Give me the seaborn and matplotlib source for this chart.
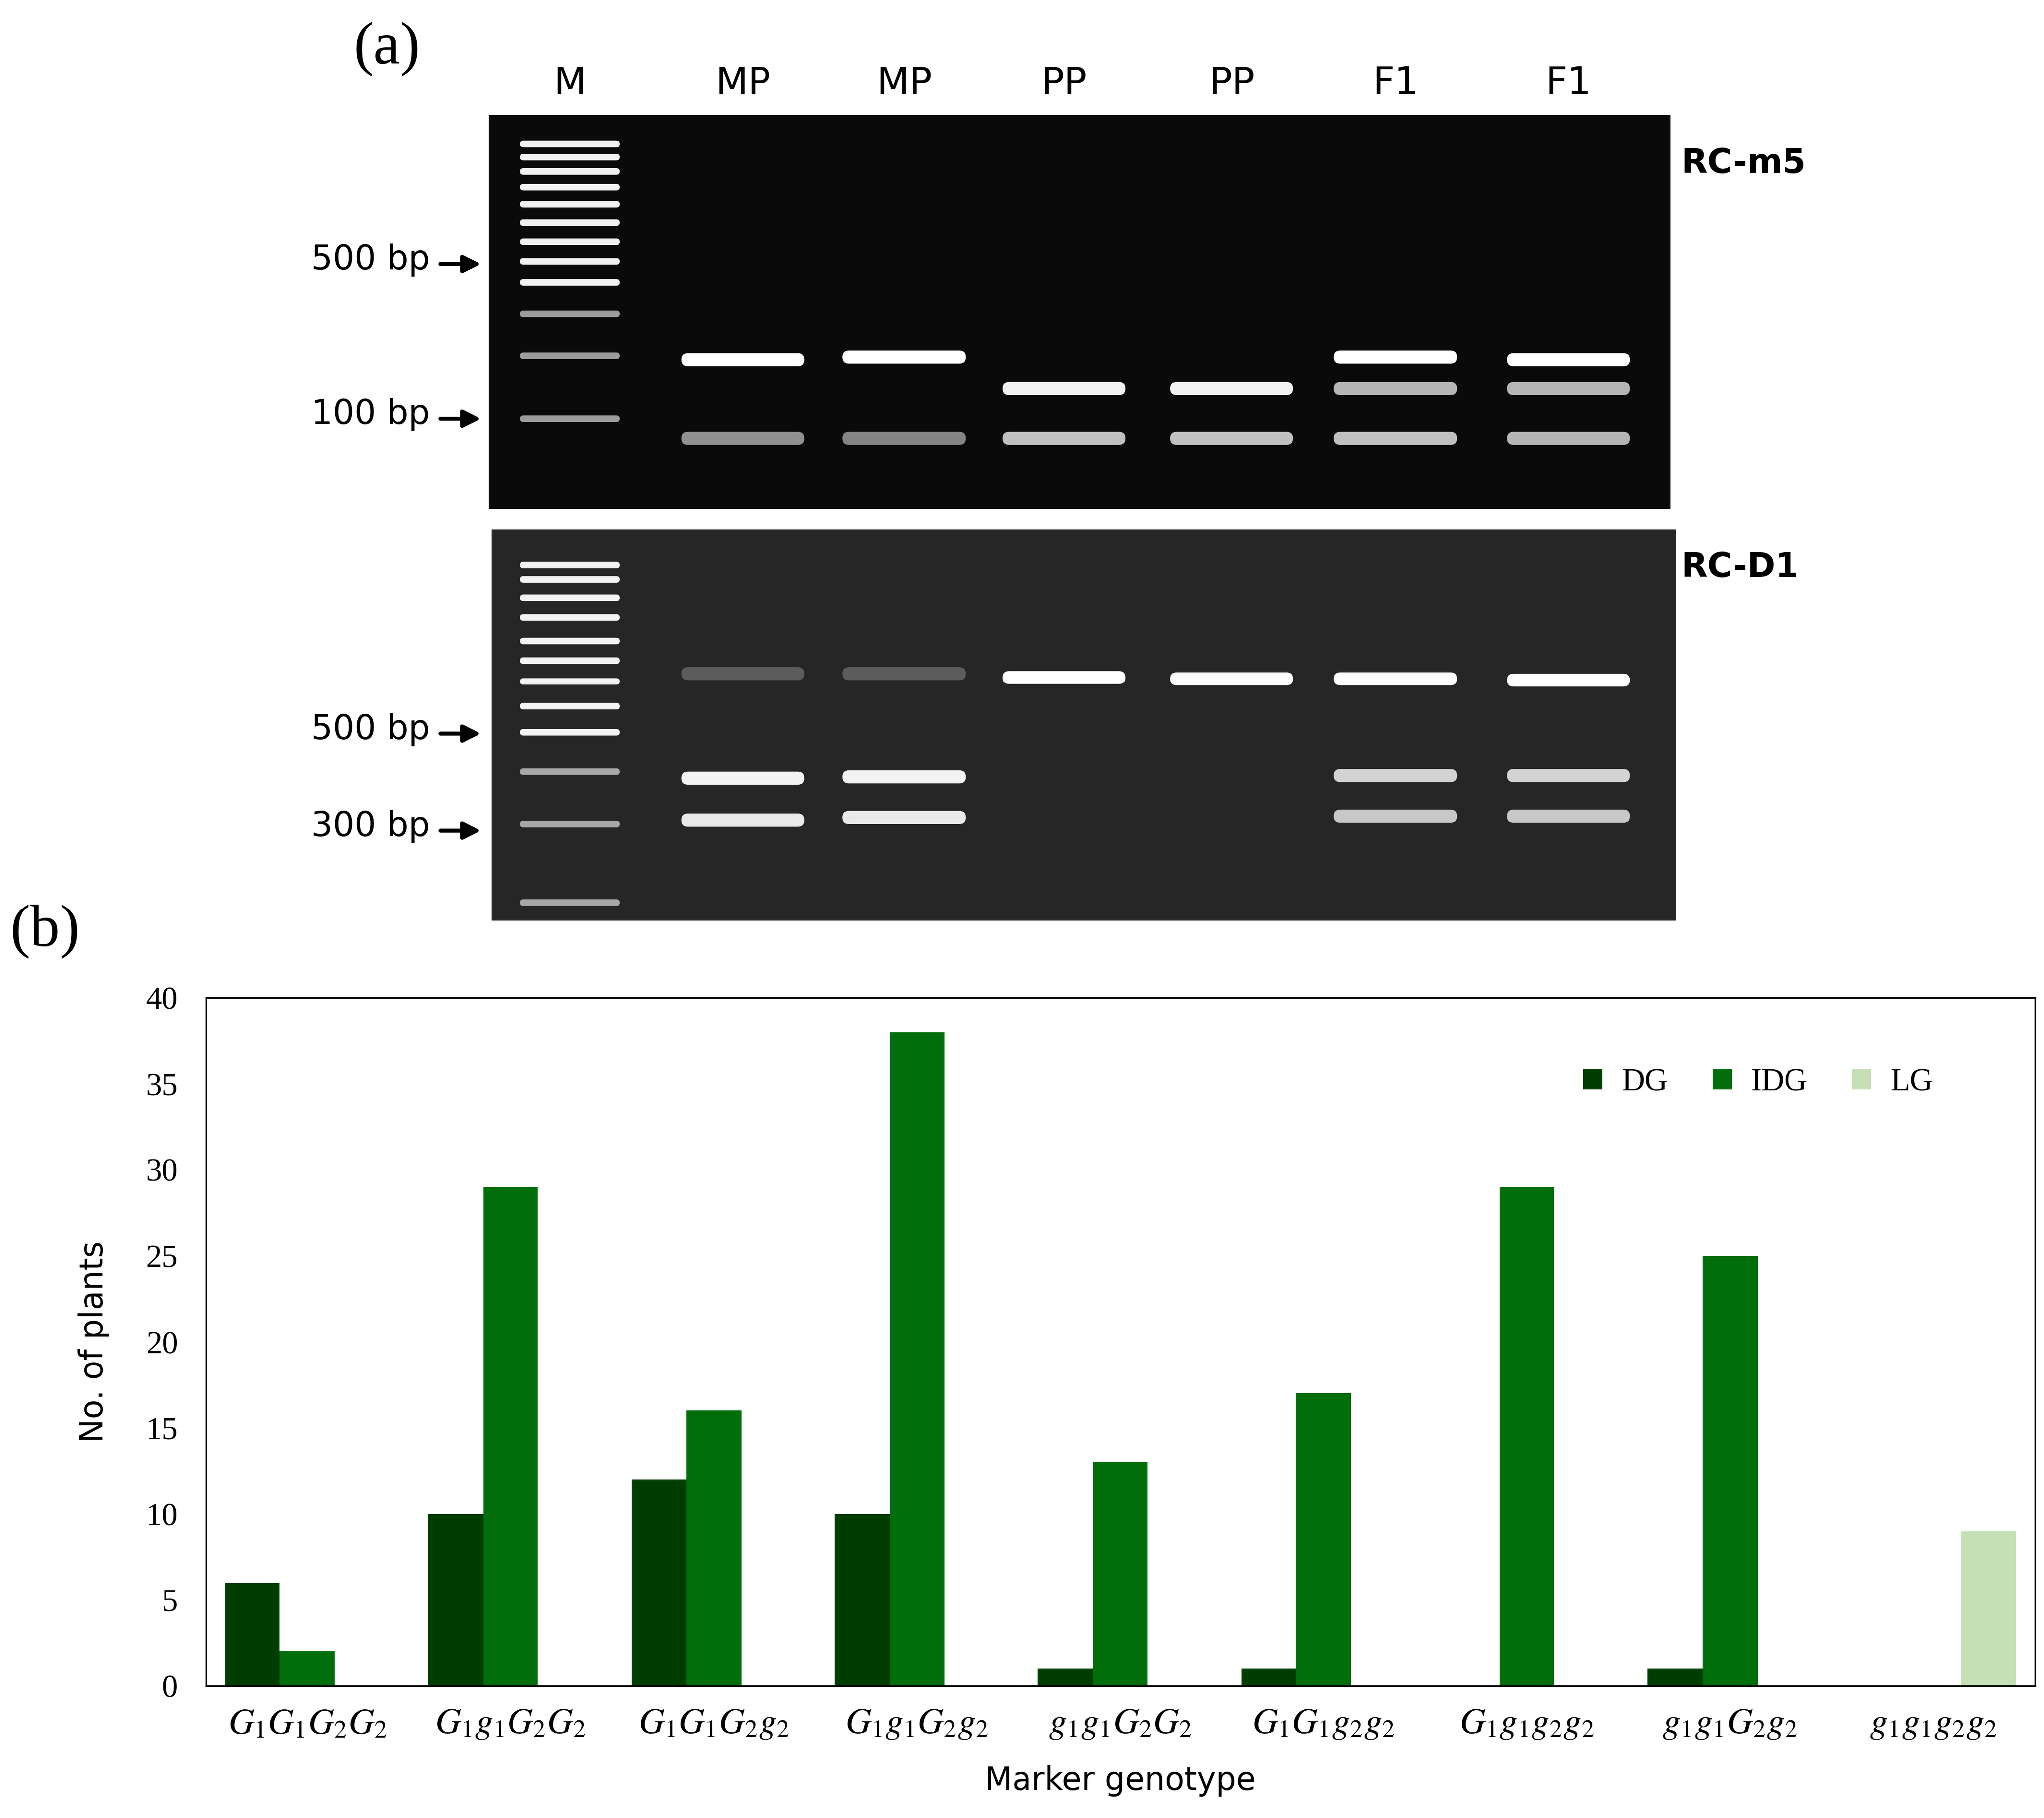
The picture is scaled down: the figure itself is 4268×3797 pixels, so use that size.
import numpy as np
import pandas as pd
import seaborn as sns
import matplotlib.pyplot as plt
from matplotlib.patches import FancyBboxPatch

# bar chart data (panel b)
genotypes = ['$G_1G_1G_2G_2$', '$G_1g_1G_2G_2$', '$G_1G_1G_2g_2$', '$G_1g_1G_2g_2$',
             '$g_1g_1G_2G_2$', '$G_1G_1g_2g_2$', '$G_1g_1g_2g_2$', '$g_1g_1G_2g_2$',
             '$g_1g_1g_2g_2$']
dg = [6, 10, 12, 10, 1, 1, 0, 1, 0]
idg = [2, 29, 16, 38, 13, 17, 29, 25, 0]
lg = [0, 0, 0, 0, 0, 0, 0, 0, 9]

# gel data (panel a), band rows in image pixels
lanes = ['M', 'MP', 'MP', 'PP', 'PP', 'F1', 'F1']
lane_x = [435, 567, 690, 812, 940, 1065, 1197]
ladder1 = [110, 120, 131, 143, 156, 170, 185, 200, 216, 240, 272, 320]
ladder2 = [432, 443, 457, 472, 490, 505, 521, 540, 560, 590, 630, 690]
gel1_bands = {1: [(275, 1.0), (335, 0.55)], 2: [(273, 1.0), (335, 0.5)],
              3: [(297, 0.95), (335, 0.75)], 4: [(297, 0.95), (335, 0.75)],
              5: [(273, 1.0), (297, 0.7), (335, 0.75)],
              6: [(275, 1.0), (297, 0.7), (335, 0.7)]}
gel2_bands = {1: [(515, 0.25), (595, 0.95), (627, 0.9)],
              2: [(515, 0.25), (594, 0.95), (625, 0.9)],
              3: [(518, 1.0)], 4: [(519, 1.0)],
              5: [(519, 1.0), (593, 0.8), (624, 0.75)],
              6: [(520, 1.0), (593, 0.8), (624, 0.75)]}

W, H = 1560, 1390
fig = plt.figure(figsize=(4268 / 300, 3797 / 300), dpi=300)
fig.patch.set_facecolor('white')


def box(x0, x1, y0, y1):
    return [x0 / W, 1 - y1 / H, (x1 - x0) / W, (y1 - y0) / H]


def draw_gel(rect, ylo, yhi, ladder, bands, bg):
    ax = fig.add_axes(box(rect[0], rect[1], ylo, yhi))
    ax.set_facecolor(bg)
    ax.set_xlim(rect[0], rect[1])
    ax.set_ylim(yhi, ylo)
    ax.set_xticks([])
    ax.set_yticks([])
    for s in ax.spines.values():
        s.set_visible(False)
    for i, y in enumerate(ladder):
        a = 0.95 if i < 9 else 0.6
        ax.add_patch(FancyBboxPatch((lane_x[0] - 38, y - 2.5), 76, 5,
                                    boxstyle='round,pad=0,rounding_size=2.5',
                                    fc='white', ec='none', alpha=a))
    for lane, bl in bands.items():
        for y, a in bl:
            ax.add_patch(FancyBboxPatch((lane_x[lane] - 47, y - 5), 94, 10,
                                        boxstyle='round,pad=0,rounding_size=5',
                                        fc='white', ec='none', alpha=a))
    return ax


draw_gel((373, 1275), 88, 389, ladder1, gel1_bands, '#0a0a0a')
draw_gel((375, 1279), 405, 704, ladder2, gel2_bands, '#262626')

fig.text(270 / W, 1 - 38 / H, '(a)', fontsize=30, family='Liberation Serif', va='center')
fig.text(8 / W, 1 - 712 / H, '(b)', fontsize=30, family='Liberation Serif', va='center')
for name, x in zip(lanes, lane_x):
    fig.text(x / W, 1 - 64 / H, name, fontsize=19, ha='center', va='center')
fig.text(1283 / W, 1 - 125 / H, 'RC-m5', fontsize=17, weight='bold', va='center')
fig.text(1283 / W, 1 - 434 / H, 'RC-D1', fontsize=17, weight='bold', va='center')
for lab, y in [('500 bp', 199), ('100 bp', 317), ('500 bp', 558), ('300 bp', 632)]:
    fig.text(328 / W, 1 - y / H, lab, fontsize=17, ha='right', va='center')
    fig.add_artist(plt.Annotation('', xy=(370 / W, 1 - (y + 3) / H), xytext=(333 / W, 1 - (y + 3) / H),
                                  xycoords='figure fraction',
                                  arrowprops=dict(arrowstyle='-|>', color='black', lw=2,
                                                  mutation_scale=18)))

# panel b
df = pd.DataFrame({'genotype': genotypes * 3,
                   'count': dg + idg + lg,
                   'group': ['DG'] * 9 + ['IDG'] * 9 + ['LG'] * 9})
plt.rcParams['mathtext.fontset'] = 'stix'
ax = fig.add_axes(box(157, 1553, 763, 1289))
sns.barplot(data=df, x='genotype', y='count', hue='group', ax=ax,
            palette=['#003d00', '#006e0a', '#c5e0b4'], width=0.81, gap=0,
            saturation=1, edgecolor='none')
ax.set_xlim(-0.5, 8.5)
ax.set_ylim(0, 40)
ax.set_yticks(range(0, 41, 5))
ax.tick_params(axis='x', length=0, labelsize=18, pad=10)
ax.tick_params(axis='y', length=0, pad=14)
for t in ax.get_yticklabels():
    t.set_family('Liberation Serif')
    t.set_fontsize(16)
for s in ax.spines.values():
    s.set_linewidth(0.8)
ax.set_xlabel('Marker genotype', fontsize=16, labelpad=12)
ax.set_ylabel('No. of plants', fontsize=16, labelpad=18)
ax.legend(loc='upper right', bbox_to_anchor=(0.96, 0.94), ncol=3, frameon=False,
          prop={'family': 'Liberation Serif', 'size': 16}, handlelength=0.6,
          handleheight=0.6, columnspacing=1.4, handletextpad=0.6)

fig.savefig('out.png', dpi=300)
